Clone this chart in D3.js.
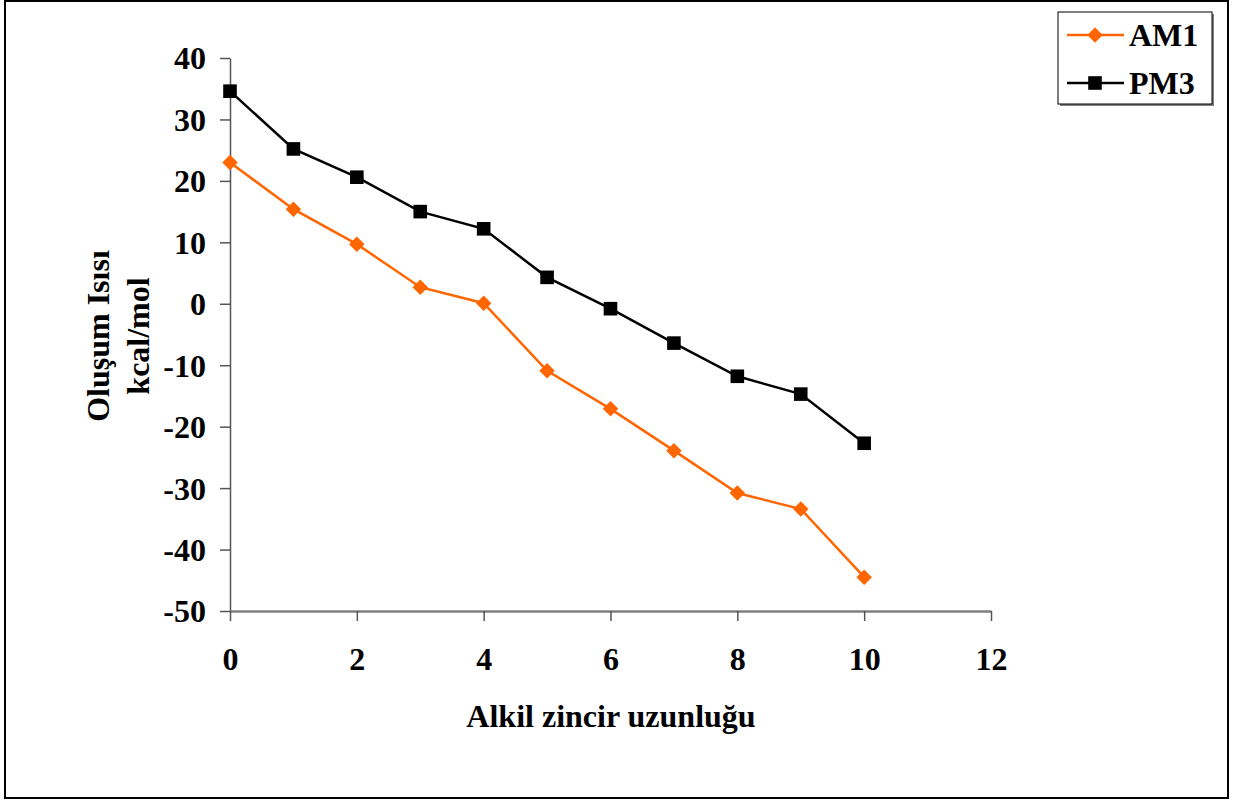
<!DOCTYPE html>
<html>
<head>
<meta charset="utf-8">
<script src="https://cdn.jsdelivr.net/npm/d3@7/dist/d3.min.js"></script>
<style>
  html, body { margin: 0; padding: 0; background: #fff; }
  svg { display: block; }
  text { font-family: "Liberation Serif", "Times New Roman", serif; font-weight: bold; fill: #000; }
</style>
</head>
<body>
<svg id="chart" width="1242" height="800"></svg>
<script>
// Alkyl chain length vs heat of formation (kcal/mol)
const chainLength = [0, 1, 2, 3, 4, 5, 6, 7, 8, 9, 10];
const am1Values = [23.0, 15.4, 9.7, 2.7, 0.1, -10.9, -17.1, -23.9, -30.8, -33.4, -44.5];
const pm3Values = [34.6, 25.2, 20.6, 15.0, 12.2, 4.3, -0.8, -6.4, -11.8, -14.7, -22.7];
const xTicks = [0, 2, 4, 6, 8, 10, 12];
const yTicks = [40, 30, 20, 10, 0, -10, -20, -30, -40, -50];
const seriesNames = ["AM1", "PM3"];
const xTitle = "Alkil zincir uzunluğu";
const yTitleLines = ["Oluşum Isısı", "kcal/mol"];

const FONT = "32px";
const svg = d3.select("#chart");

// outer frame
svg.append("rect")
  .attr("x", 5).attr("y", 1).attr("width", 1223).attr("height", 797)
  .attr("fill", "none").attr("stroke", "#000").attr("stroke-width", 2);

const plot = { left: 230, right: 991, top: 58, bottom: 611 };

const x = d3.scaleLinear().domain([0, 12]).range([plot.left, plot.right]);
const y = d3.scaleLinear().domain([-50, 40]).range([plot.bottom, plot.top]);

// plain hyphen for negatives
const fmt = d => String(d);

// y axis
const yAxis = svg.append("g")
  .attr("transform", `translate(${plot.left},0)`)
  .call(d3.axisLeft(y).tickValues(yTicks).tickFormat(fmt).tickSize(10).tickPadding(14).tickSizeOuter(0));
yAxis.select(".domain").attr("stroke", "#555").attr("stroke-width", 1.5);
yAxis.selectAll(".tick line").attr("stroke", "#555").attr("stroke-width", 1.5);
yAxis.selectAll(".tick text")
  .style("font-family", "'Liberation Serif', serif").style("font-weight", "bold")
  .style("font-size", FONT).attr("fill", "#000").attr("dy", "0.34em");

// x axis
const xAxis = svg.append("g")
  .attr("transform", `translate(0,${plot.bottom})`)
  .call(d3.axisBottom(x).tickValues(xTicks).tickFormat(fmt).tickSize(10).tickPadding(26).tickSizeOuter(0));
xAxis.select(".domain").attr("stroke", "#808080").attr("stroke-width", 2.5);
xAxis.selectAll(".tick line").attr("stroke", "#555").attr("stroke-width", 1.5);
xAxis.selectAll(".tick text")
  .style("font-family", "'Liberation Serif', serif").style("font-weight", "bold")
  .style("font-size", FONT).attr("fill", "#000");

// axis titles
svg.append("text")
  .attr("x", 611).attr("y", 727)
  .attr("text-anchor", "middle")
  .style("font-size", FONT)
  .text(xTitle);

const yTitle = svg.append("text")
  .attr("transform", "translate(118,336) rotate(-90)")
  .attr("text-anchor", "middle")
  .style("font-size", FONT);
yTitle.selectAll("tspan").data(yTitleLines).join("tspan")
  .attr("x", 0)
  .attr("y", (d, i) => i === 0 ? -9 : 31)
  .text(d => d);

// series
const series = [
  { name: seriesNames[0], values: am1Values, color: "#FF6600", shape: "diamond" },
  { name: seriesNames[1], values: pm3Values, color: "#000000", shape: "square" }
];

const line = d3.line().x((d, i) => x(chainLength[i])).y(d => y(d));
const diamond = d3.symbol().type(d3.symbolSquare).size(120);
const square = d3.symbol().type(d3.symbolSquare).size(185);

series.forEach(s => {
  svg.append("path")
    .datum(s.values)
    .attr("d", line)
    .attr("fill", "none")
    .attr("stroke", s.color)
    .attr("stroke-width", 2.5);
  const g = svg.append("g");
  s.values.forEach((v, i) => {
    const tr = `translate(${x(chainLength[i])},${y(v)})` + (s.shape === "diamond" ? " rotate(45)" : "");
    g.append("path")
      .attr("fill", s.color)
      .attr("d", s.shape === "diamond" ? diamond() : square())
      .attr("transform", tr);
  });
});

// legend
const legend = svg.append("g");
legend.append("rect")
  .attr("x", 1060).attr("y", 14).attr("width", 154).attr("height", 92)
  .attr("fill", "#808080");
legend.append("rect")
  .attr("x", 1058).attr("y", 12).attr("width", 154).attr("height", 92)
  .attr("fill", "#fff").attr("stroke", "#000").attr("stroke-width", 1);

series.forEach((s, i) => {
  const cy = 35 + i * 48;
  legend.append("line")
    .attr("x1", 1067).attr("x2", 1124).attr("y1", cy).attr("y2", cy)
    .attr("stroke", s.color).attr("stroke-width", 2.5);
  legend.append("path")
    .attr("d", s.shape === "diamond" ? diamond() : square())
    .attr("fill", s.color)
    .attr("transform", `translate(1095,${cy})` + (s.shape === "diamond" ? " rotate(45)" : ""));
  legend.append("text")
    .attr("x", 1129).attr("y", cy + 11)
    .style("font-size", FONT)
    .text(s.name);
});
</script>
</body>
</html>
